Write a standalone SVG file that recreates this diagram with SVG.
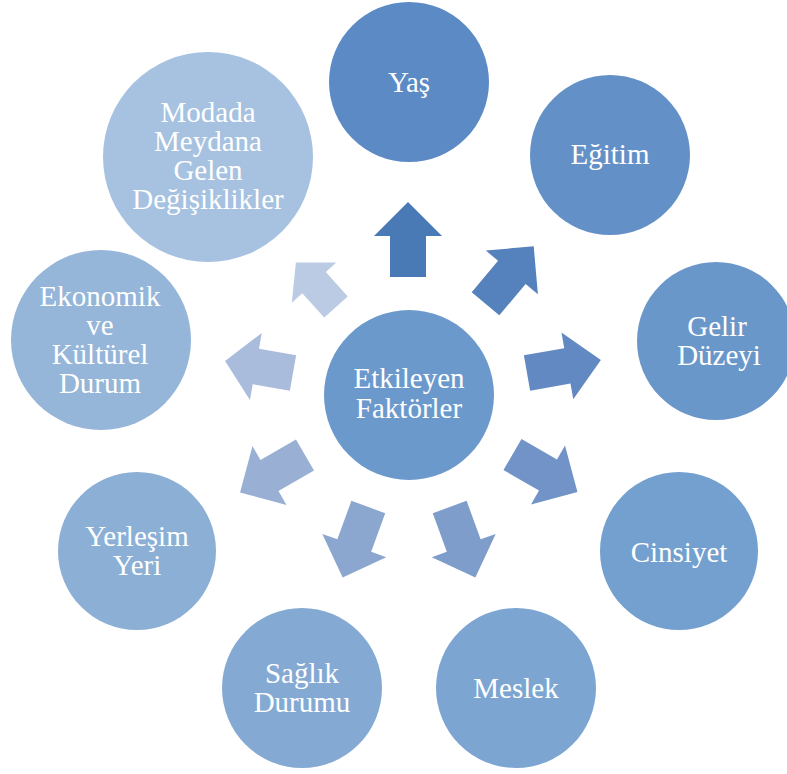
<svg xmlns="http://www.w3.org/2000/svg" xmlns:xlink="http://www.w3.org/1999/xlink" width="787" height="774" viewBox="0 0 787 774">
<defs>
<style>
text{font-family:"Liberation Serif","Times New Roman",serif;font-size:29px;fill:#ffffff;text-anchor:middle}
</style>
<path id="arr" d="M-18,0 L-18,-41 L-34,-41 L0,-75 L34,-41 L18,-41 L18,0 Z"/>
</defs>
<rect width="787" height="774" fill="#ffffff"/>
<g id="connectors">
<use xlink:href="#arr" href="#arr" fill="#4a7ab6" transform="translate(408,277)"/>
<use xlink:href="#arr" href="#arr" fill="#5581bd" transform="translate(485.5,303.8) rotate(40)"/>
<use xlink:href="#arr" href="#arr" fill="#6389c2" transform="translate(527,373) rotate(80)"/>
<use xlink:href="#arr" href="#arr" fill="#7193c7" transform="translate(512.5,454.5) rotate(120)"/>
<use xlink:href="#arr" href="#arr" fill="#7f9dcb" transform="translate(449.7,507) rotate(160)"/>
<use xlink:href="#arr" href="#arr" fill="#8ca7cf" transform="translate(368.3,507) rotate(200)"/>
<use xlink:href="#arr" href="#arr" fill="#99b0d4" transform="translate(305,455) rotate(240)"/>
<use xlink:href="#arr" href="#arr" fill="#a9bcdb" transform="translate(293,373) rotate(280) scale(1,0.92)"/>
<use xlink:href="#arr" href="#arr" fill="#bccbe4" transform="translate(336,307) rotate(-42) scale(0.88,0.8)"/>
</g>
<g id="node-center">
<circle cx="409" cy="395" r="85" fill="#6c99cc"/>
<text x="409" y="388">Etkileyen</text>
<text x="409" y="418">Faktörler</text>
</g>
<g id="node-yas">
<circle cx="409" cy="82" r="80" fill="#5b8ac4"/>
<text x="409" y="92">Yaş</text>
</g>
<g id="node-egitim">
<circle cx="610" cy="155" r="80" fill="#6391c7"/>
<text x="610" y="164">Eğitim</text>
</g>
<g id="node-gelir">
<circle cx="716" cy="341" r="79" fill="#6a97ca"/>
<text x="717" y="336">Gelir</text>
<text x="719" y="365">Düzeyi</text>
</g>
<g id="node-cinsiyet">
<circle cx="679" cy="551" r="79" fill="#73a0cf"/>
<text x="679" y="562">Cinsiyet</text>
</g>
<g id="node-meslek">
<circle cx="516" cy="688" r="80" fill="#7ca5d2"/>
<text x="516" y="698">Meslek</text>
</g>
<g id="node-saglik">
<circle cx="302" cy="688" r="80" fill="#84aad4"/>
<text x="302" y="683">Sağlık</text>
<text x="302" y="712">Durumu</text>
</g>
<g id="node-yerlesim">
<circle cx="137" cy="551" r="79" fill="#8cafd6"/>
<text x="137" y="546">Yerleşim</text>
<text x="137" y="575">Yeri</text>
</g>
<g id="node-ekonomik">
<circle cx="101" cy="340" r="90" fill="#95b5d9"/>
<text x="100" y="306">Ekonomik</text>
<text x="100" y="335">ve</text>
<text x="100" y="364">Kültürel</text>
<text x="100" y="393">Durum</text>
</g>
<g id="node-modada">
<circle cx="208" cy="157" r="105" fill="#a6c2e0"/>
<text x="208" y="122">Modada</text>
<text x="208" y="151">Meydana</text>
<text x="208" y="180">Gelen</text>
<text x="208" y="209">Değişiklikler</text>
</g>
</svg>
